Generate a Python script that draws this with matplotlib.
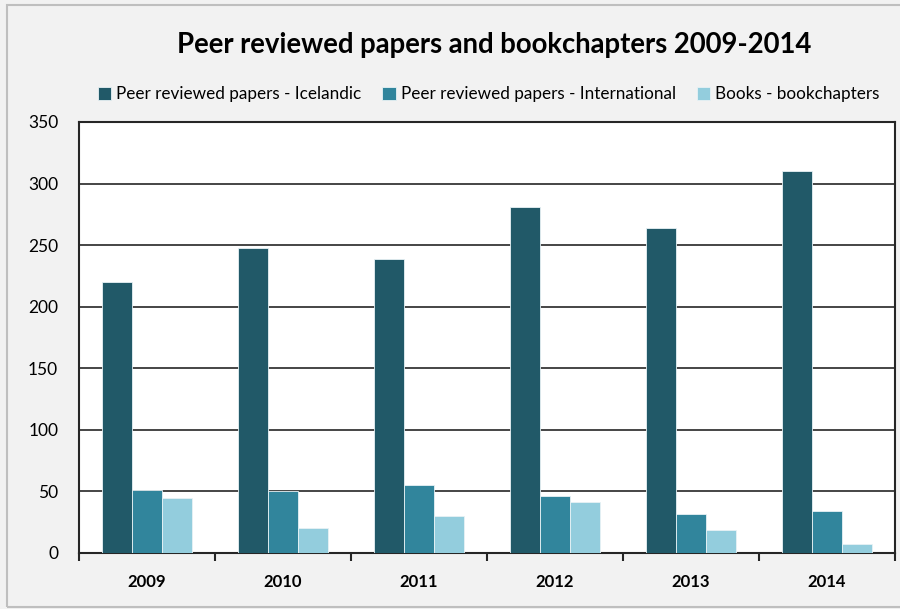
import matplotlib.pyplot as plt
import numpy as np
from matplotlib.patches import Rectangle

years = ["2009", "2010", "2011", "2012", "2013", "2014"]
icelandic = [220, 248, 239, 281, 264, 310]
international = [51, 50, 55, 46, 32, 34]
books = [45, 20, 30, 41, 19, 7]

labels = [
    "Peer reviewed papers - Icelandic",
    "Peer reviewed papers - International",
    "Books - bookchapters",
]
colors = ["#215968", "#31859c", "#93cddd"]

plt.rcParams["font.family"] = ["Lato", "DejaVu Sans"]

fig = plt.figure(figsize=(9, 6.09), dpi=100, facecolor="#f2f2f2")
fig.patches.append(
    Rectangle((0.008, 0.003), 1.2, 0.989, transform=fig.transFigure,
              fill=False, edgecolor="#bfbfbf", linewidth=1.5)
)
ax = fig.add_axes([0.0878, 0.092, 0.9066, 0.7077])
ax.set_facecolor("white")

x = np.arange(len(years))
w = 0.22
for i, (vals, lab, col) in enumerate(zip([icelandic, international, books], labels, colors)):
    ax.bar(x + (i - 1) * w, vals, w, color=col, label=lab,
           edgecolor="#e8f2f5", linewidth=0.6, zorder=3)

ax.set_xlim(-0.5, len(years) - 0.5)
ax.set_ylim(0, 350)
ax.set_yticks(range(0, 351, 50))
ax.yaxis.grid(True, color="#262626", linewidth=1.2, zorder=1)
ax.tick_params(axis="y", length=0, labelsize=12.5, pad=15, colors="#000000")

ax.set_xticks(x)
ax.set_xticklabels(years, fontweight="bold", fontsize=12)
ax.set_xticks(np.arange(-0.5, len(years)), minor=True)
ax.tick_params(axis="x", which="major", length=0, pad=15)
ax.tick_params(axis="x", which="minor", length=6, width=1.5, direction="out", colors="#262626")

for s in ax.spines.values():
    s.set_color("#262626")
    s.set_linewidth(1.5)

fig.text(0.549, 0.926, "Peer reviewed papers and bookchapters 2009-2014",
         ha="center", va="center", fontsize=19.8, fontweight="bold")

fig.legend(loc="center", bbox_to_anchor=(0.543, 0.845), ncol=3, frameon=False,
           fontsize=12.3, handlelength=0.8, handleheight=0.8, handletextpad=0.3,
           columnspacing=1.2)

fig.savefig("out.png", dpi=100, facecolor=fig.get_facecolor())
